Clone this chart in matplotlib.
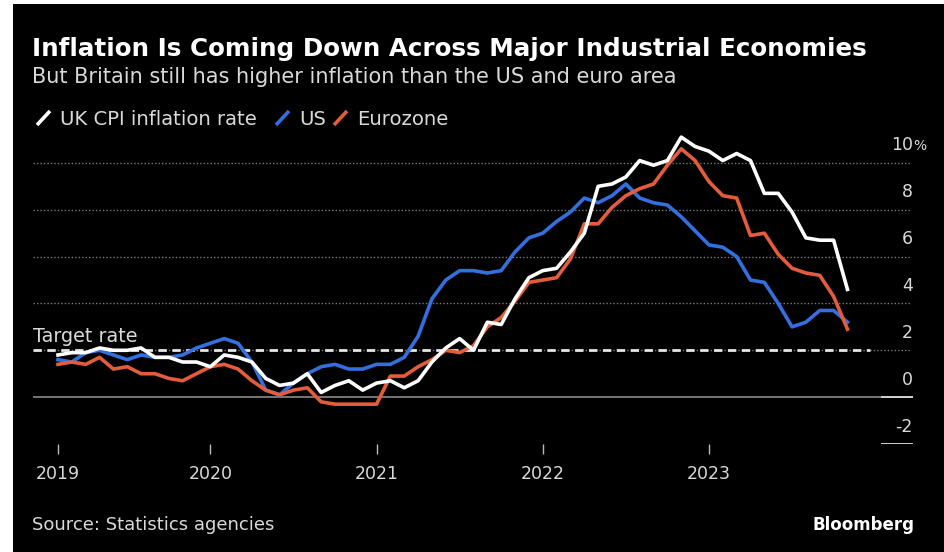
import numpy as np
import matplotlib
matplotlib.use("Agg")
import matplotlib.pyplot as plt
from matplotlib.lines import Line2D
from matplotlib.patches import Rectangle

# monthly CPI, Jan 2019 .. Oct 2023 (% y/y)
uk = [1.8, 1.9, 1.9, 2.1, 2.0, 2.0, 2.1, 1.7, 1.7, 1.5, 1.5, 1.3,
      1.8, 1.7, 1.5, 0.8, 0.5, 0.6, 1.0, 0.2, 0.5, 0.7, 0.3, 0.6,
      0.7, 0.4, 0.7, 1.5, 2.1, 2.5, 2.0, 3.2, 3.1, 4.2, 5.1, 5.4,
      5.5, 6.2, 7.0, 9.0, 9.1, 9.4, 10.1, 9.9, 10.1, 11.1, 10.7, 10.5,
      10.1, 10.4, 10.1, 8.7, 8.7, 7.9, 6.8, 6.7, 6.7, 4.6]
us = [1.6, 1.5, 1.9, 2.0, 1.8, 1.6, 1.8, 1.7, 1.7, 1.8, 2.1, 2.3,
      2.5, 2.3, 1.5, 0.3, 0.1, 0.6, 1.0, 1.3, 1.4, 1.2, 1.2, 1.4,
      1.4, 1.7, 2.6, 4.2, 5.0, 5.4, 5.4, 5.3, 5.4, 6.2, 6.8, 7.0,
      7.5, 7.9, 8.5, 8.3, 8.6, 9.1, 8.5, 8.3, 8.2, 7.7, 7.1, 6.5,
      6.4, 6.0, 5.0, 4.9, 4.0, 3.0, 3.2, 3.7, 3.7, 3.2]
ez = [1.4, 1.5, 1.4, 1.7, 1.2, 1.3, 1.0, 1.0, 0.8, 0.7, 1.0, 1.3,
      1.4, 1.2, 0.7, 0.3, 0.1, 0.3, 0.4, -0.2, -0.3, -0.3, -0.3, -0.3,
      0.9, 0.9, 1.3, 1.6, 2.0, 1.9, 2.2, 3.0, 3.4, 4.1, 4.9, 5.0,
      5.1, 5.9, 7.4, 7.4, 8.1, 8.6, 8.9, 9.1, 9.9, 10.6, 10.1, 9.2,
      8.6, 8.5, 6.9, 7.0, 6.1, 5.5, 5.3, 5.2, 4.3, 2.9]
months = np.arange(len(uk))

year_ticks = [0, 11, 23, 35, 47]
year_labels = ["2019", "2020", "2021", "2022", "2023"]
y_ticks = [-2, 0, 2, 4, 6, 8, 10]
target = 2

W, H = 944, 552
c_uk = "#ffffff"
c_us = "#3170de"
c_ez = "#e45c3c"
txt = "#d9d9d9"

plt.rcParams["font.family"] = ["DejaVu Sans"]
fig = plt.figure(figsize=(W / 100, H / 100), dpi=100, facecolor="white")
fig.patches.append(Rectangle((13 / W, 0), 1, 1 - 4 / H, transform=fig.transFigure,
                             facecolor="black", zorder=-10))

def fx(px):
    return px / W

def fy(py):
    return 1 - py / H

fig.text(fx(32), fy(56), "Inflation Is Coming Down Across Major Industrial Economies",
         color="white", fontsize=17.7, fontweight="bold", va="baseline")
fig.text(fx(32), fy(83), "But Britain still has higher inflation than the US and euro area",
         color=txt, fontsize=15, va="baseline")

# legend
legend = [("UK CPI inflation rate", c_uk, 37, 60),
          ("US", c_us, 276, 299),
          ("Eurozone", c_ez, 334, 357)]
for label, col, sx, tx in legend:
    fig.add_artist(Line2D([fx(sx), fx(sx + 13)], [fy(125), fy(111)], color=col,
                          lw=2.6, solid_capstyle="butt"))
    fig.text(fx(tx), fy(125), label, color=txt, fontsize=14.1, va="baseline")

fig.text(fx(32), fy(530), "Source: Statistics agencies", color=txt, fontsize=13, va="baseline")
fig.text(fx(915), fy(530), "Bloomberg", color="white", fontsize=12, fontweight="bold",
         ha="right", va="baseline")

# plot area: x 33..913 px, y 130..444 px
ax = fig.add_axes([fx(33), fy(444), (913 - 33) / W, (444 - 130) / H])
ax.set_facecolor("none")
ax.set_xlim(-25 / 13.85, (913 - 58) / 13.85)
ax.set_ylim(-2, (398 - 130) / 23.5)
for s in ax.spines.values():
    s.set_visible(False)

for v in [2, 4, 6, 8, 10]:
    ax.axhline(v, xmax=(910 - 33) / 880, color="#7a7a7a", lw=1.0, ls=(0, (1, 1.5)), zorder=1)
ax.axhline(0, color="#8a8a8a", lw=1.2, zorder=1)
ax.axhline(0, xmin=(882 - 33) / 880, color="#d0d0d0", lw=1.4, zorder=1)
ax.axhline(-2, xmin=(882 - 33) / 880, color="#d0d0d0", lw=1.4, zorder=1)
ax.axhline(target, xmax=(870 - 33) / 880, color="#e6e6e6", lw=2, ls=(0, (3, 2)), zorder=2)
ax.text(0, target + 0.35, "Target rate", transform=ax.get_yaxis_transform(),
        color=txt, fontsize=13.8, va="baseline")

ax.plot(months, us, color=c_us, lw=2.6, zorder=3)
ax.plot(months, ez, color=c_ez, lw=2.6, zorder=4)
ax.plot(months, uk, color=c_uk, lw=2.6, zorder=5)

ax.set_yticks([])
for v in y_ticks:
    ax.text(1.0, v + 0.53, str(v), transform=ax.get_yaxis_transform(), color=txt,
            fontsize=12.5, ha="right", va="baseline")
ax.text(1.0, 10.53, "%", transform=ax.get_yaxis_transform(), color=txt,
        fontsize=10, ha="left", va="baseline")

ax.set_xticks(year_ticks)
ax.set_xticklabels(year_labels)
ax.tick_params(axis="x", colors="#bbbbbb", length=7, width=1, pad=8, labelsize=12.5,
               labelcolor=txt)

fig.savefig("out.png", dpi=100, facecolor=fig.get_facecolor())
